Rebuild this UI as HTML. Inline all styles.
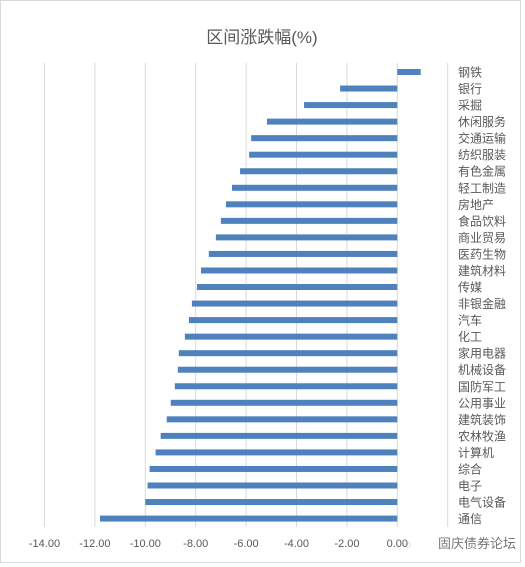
<!DOCTYPE html>
<html><head><meta charset="utf-8"><style>
html,body{margin:0;padding:0;background:#fff;}
svg{display:block;font-family:"Liberation Sans","Noto Sans CJK SC",sans-serif;}
</style></head><body>
<svg width="525" height="567" viewBox="0 0 525 567">
<rect x="0.5" y="0.5" width="520" height="562" fill="#fff" stroke="#d9d9d9"/>
<text x="262" y="43" text-anchor="middle" font-size="17" fill="#595959">区间涨跌幅(%)</text>
<g id="grid"></g><g id="bars"></g><g id="cats"></g><g id="ticks"></g>
<text x="438" y="548" font-size="13" fill="#777">固庆债券论坛</text>
<text x="405" y="548" font-size="11" fill="#999">◌</text>
</svg>
<script>
const categories=["钢铁","银行","采掘","休闲服务","交通运输","纺织服装","有色金属","轻工制造","房地产","食品饮料","商业贸易","医药生物","建筑材料","传媒","非银金融","汽车","化工","家用电器","机械设备","国防军工","公用事业","建筑装饰","农林牧渔","计算机","综合","电子","电气设备","通信"];
const values=[0.93,-2.27,-3.7,-5.17,-5.8,-5.88,-6.24,-6.56,-6.8,-7.0,-7.2,-7.48,-7.79,-7.95,-8.15,-8.27,-8.43,-8.67,-8.71,-8.83,-8.99,-9.15,-9.39,-9.59,-9.83,-9.91,-10.0,-11.8];
const gridValues=[-14,-12,-10,-8,-6,-4,-2,0,2];
const tickLabels=["-14.00","-12.00","-10.00","-8.00","-6.00","-4.00","-2.00","0.00"];
const NS="http://www.w3.org/2000/svg";
function x(v){return 397.3+v*25.2;}
function y(i){return 72+i*16.54;}
function mk(t,a,p){const e=document.createElementNS(NS,t);for(const k in a)e.setAttribute(k,a[k]);document.getElementById(p).appendChild(e);return e;}
gridValues.forEach(v=>{
 const l=mk("line",{x1:x(v),x2:x(v),y1:63,y2:527,stroke:"#d9d9d9","stroke-width":1},"grid");
 
 
});
tickLabels.forEach((s,i)=>{
 const t=mk("text",{x:x(gridValues[i]),y:547,"text-anchor":"middle","font-size":11,fill:"#595959"},"ticks");
 t.textContent=s;
 
 
});
values.forEach((v,i)=>{
 const r=mk("rect",{x:Math.min(x(v),x(0)),y:y(i)-3,width:Math.abs(x(v)-x(0)),height:6,fill:"#4f81bd"},"bars");
 
 
 const t=mk("text",{x:458,y:y(i)+4.5,"font-size":12,fill:"#595959"},"cats");
 t.textContent=categories[i];
 
 
});
</script>
</body></html>
